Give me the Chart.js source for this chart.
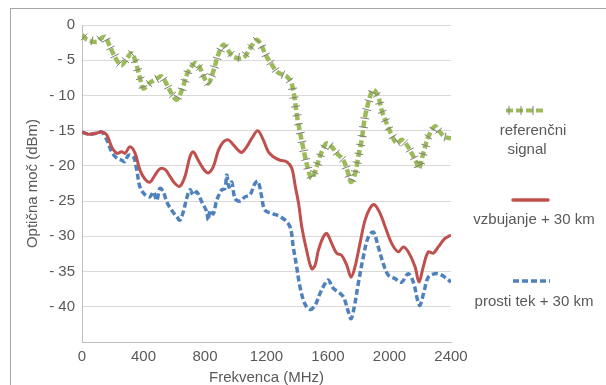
<!DOCTYPE html>
<html>
<head>
<meta charset="utf-8">
<script src="https://cdn.jsdelivr.net/npm/chart.js@4.4.1/dist/chart.umd.min.js"></script>
<style>
  html, body { margin: 0; padding: 0; background: #fff; }
  #graf { display: block; }
</style>
</head>
<body>
<canvas id="graf" width="606" height="385"></canvas>
<script>
// podatki odčitani s slike (MHz, dBm)
const refFrek = [0, 34, 96, 117, 150, 182, 226, 258, 293, 323, 351, 377, 399, 442, 481, 518, 553, 585, 616, 650,
  689, 735, 767, 793, 821, 852, 885, 919, 950, 984, 1047, 1093, 1136, 1164, 1201, 1234, 1266, 1300, 1331, 1364,
  1403, 1446, 1472, 1494, 1526, 1559, 1592, 1624, 1657, 1700, 1732, 1750, 1776, 1797, 1819, 1841, 1873, 1895,
  1927, 1949, 1982, 2014, 2047, 2079, 2112, 2144, 2177, 2192, 2220, 2252, 2296, 2328, 2361, 2400];
const refMoc = [-1.4, -2.1, -2.4, -2.0, -1.7, -3.1, -5.0, -5.7, -4.7, -4.0, -5.4, -7.5, -9.0, -8.2, -7.7, -7.3, -8.5, -9.8, -10.6, -9.2,
  -6.7, -5.4, -6.1, -7.4, -8.3, -6.7, -4.3, -2.8, -3.6, -4.5, -4.7, -3.3, -2.1, -2.8, -4.5, -5.6, -6.6, -7.0, -7.3, -8.3,
  -13.5, -18.2, -20.6, -21.8, -20.1, -18.0, -16.8, -17.3, -18.2, -19.2, -21.1, -22.3, -21.1, -18.7, -16.3, -13.0, -10.2, -9.2,
  -10.2, -12.1, -14.0, -15.6, -16.8, -16.3, -17.0, -18.2, -19.6, -20.4, -18.2, -15.9, -14.4, -15.2, -15.9, -16.1];

const vzbFrek = [0, 41, 85, 128, 161, 193, 226, 258, 280, 312, 345, 377, 410, 442, 475, 507, 540, 572, 605, 637,
  670, 702, 724, 756, 789, 821, 854, 887, 919, 952, 984, 1017, 1039, 1071, 1104, 1143, 1179, 1212, 1244, 1288,
  1331, 1364, 1388, 1410, 1429, 1461, 1494, 1516, 1537, 1569, 1592, 1624, 1657, 1689, 1722, 1750, 1776, 1808,
  1841, 1873, 1901, 1938, 1971, 2014, 2057, 2090, 2122, 2166, 2192, 2220, 2252, 2285, 2317, 2361, 2400];
const vzbMoc = [-15.2, -15.5, -15.4, -15.2, -15.6, -17.3, -18.2, -18.0, -18.2, -17.3, -18.2, -20.6, -21.9, -22.3, -21.3, -20.4, -20.5, -21.5, -22.5, -22.9,
  -21.5, -18.7, -18.0, -19.2, -20.4, -21.0, -20.1, -17.8, -16.6, -16.3, -17.0, -17.8, -18.1, -17.3, -16.1, -15.0, -16.3, -18.0, -18.7, -19.2,
  -19.4, -20.3, -23.0, -25.5, -28.6, -32.0, -34.6, -34.1, -32.0, -30.1, -29.6, -31.0, -32.4, -32.7, -34.1, -35.8, -34.3, -31.0,
  -27.7, -26.0, -25.5, -26.7, -28.6, -31.0, -32.2, -31.5, -32.2, -34.3, -36.5, -34.3, -32.2, -32.4, -31.5, -30.3, -29.8];

const ptFrek = [0, 41, 85, 128, 161, 193, 226, 258, 280, 301, 334, 356, 377, 410, 442, 464, 486, 507, 529, 551,
  583, 616, 637, 659, 681, 702, 724, 746, 779, 811, 821, 833, 854, 876, 909, 930, 941, 956, 974, 995,
  1028, 1060, 1093, 1125, 1145, 1169, 1190, 1244, 1288, 1331, 1357, 1374, 1396, 1418, 1450, 1483, 1516, 1548,
  1581, 1602, 1635, 1667, 1700, 1732, 1750, 1771, 1797, 1830, 1862, 1895, 1927, 1960, 1992, 2036, 2079, 2122,
  2155, 2183, 2198, 2226, 2252, 2296, 2339, 2372, 2400];
const ptMoc = [-15.2, -15.5, -15.4, -15.2, -16.3, -18.0, -18.9, -19.2, -19.4, -18.5, -18.7, -20.6, -23.0, -24.1, -24.4, -23.7, -24.9, -23.2, -23.7, -25.1,
  -26.3, -27.2, -27.7, -26.5, -24.6, -23.4, -24.1, -23.7, -25.1, -26.5, -27.7, -26.3, -26.8, -24.9, -23.4, -23.2, -21.3, -23.0, -22.3, -24.6,
  -25.0, -24.4, -24.1, -22.5, -22.2, -24.4, -26.3, -26.8, -27.2, -27.9, -28.9, -31.5, -34.3, -37.2, -39.6, -40.4, -39.8, -38.1,
  -36.7, -36.2, -37.4, -37.9, -38.6, -40.7, -41.7, -40.0, -36.7, -32.9, -30.1, -29.4, -31.5, -33.9, -35.5, -36.0, -36.5, -35.3,
  -36.5, -39.1, -39.8, -37.7, -35.8, -35.3, -35.5, -36.0, -36.5];

const oznake = ["referenčni signal", "vzbujanje + 30 km", "prosti tek + 30 km"];

const zelena = "#9BBB59", rdeca = "#C0504D", modra = "#4F81BD", siva = "#595959";
const pisava = "'Liberation Sans', Arial, sans-serif";

function tocke(frek, moc) {
  return frek.map((f, i) => ({ x: f, y: moc[i] }));
}

// okvir okrog grafa
const okvir = {
  id: "okvir",
  beforeDraw(chart) {
    const ctx = chart.ctx;
    ctx.save();
    ctx.fillStyle = "#fff";
    ctx.fillRect(0, 0, chart.width, chart.height);
    ctx.strokeStyle = "#A6A6A6";
    ctx.lineWidth = 1;
    ctx.strokeRect(10.5, 8.5, 700, 700);
    ctx.restore();
  }
};

// sive prečne črtice na referenčni krivulji
function precneCrtice(ctx, pts, korak, pol) {
  let ostanek = 3;
  for (let i = 1; i < pts.length; i++) {
    const x0 = pts[i - 1].x, y0 = pts[i - 1].y;
    const dx = pts[i].x - x0, dy = pts[i].y - y0;
    const dolz = Math.hypot(dx, dy);
    if (!dolz) continue;
    let d = ostanek;
    while (d < dolz) {
      const cx = x0 + dx * d / dolz, cy = y0 + dy * d / dolz;
      const nx = -dy / dolz * pol, ny = dx / dolz * pol;
      ctx.beginPath();
      ctx.moveTo(cx - nx, cy - ny);
      ctx.lineTo(cx + nx, cy + ny);
      ctx.stroke();
      d += korak;
    }
    ostanek = d - dolz;
  }
}

const crtice = {
  id: "crtice",
  afterDatasetsDraw(chart) {
    const pts = chart.getDatasetMeta(0).data;
    const ctx = chart.ctx;
    ctx.save();
    ctx.strokeStyle = "#7F7F7F";
    ctx.lineWidth = 1;
    precneCrtice(ctx, pts, 9, 4.5);
    ctx.restore();
  }
};

// legenda desno, besedilo pod oznako
const legenda = {
  id: "legenda",
  afterDraw(chart) {
    const ctx = chart.ctx;
    ctx.save();
    ctx.font = "15px " + pisava;
    ctx.fillStyle = siva;
    ctx.textAlign = "center";
    ctx.textBaseline = "middle";

    // referenčni signal
    ctx.strokeStyle = zelena;
    ctx.lineWidth = 4;
    ctx.setLineDash([7, 3]);
    ctx.beginPath(); ctx.moveTo(506, 110.5); ctx.lineTo(543, 110.5); ctx.stroke();
    ctx.setLineDash([]);
    ctx.strokeStyle = "#7F7F7F";
    ctx.lineWidth = 1;
    precneCrtice(ctx, [{ x: 506, y: 110.5 }, { x: 543, y: 110.5 }], 12, 4.5);
    ctx.fillText("referenčni", 533, 131);
    ctx.fillText("signal", 527, 150);

    // vzbujanje
    ctx.strokeStyle = rdeca;
    ctx.lineWidth = 3.5;
    ctx.lineCap = "round";
    ctx.beginPath(); ctx.moveTo(513, 200); ctx.lineTo(548, 200); ctx.stroke();
    ctx.lineCap = "butt";
    ctx.fillText(oznake[1], 534, 220);

    // prosti tek
    ctx.strokeStyle = modra;
    ctx.lineWidth = 3.5;
    ctx.setLineDash([6, 3]);
    ctx.beginPath(); ctx.moveTo(513, 281); ctx.lineTo(550, 281); ctx.stroke();
    ctx.setLineDash([]);
    ctx.fillText(oznake[2], 534, 302);
    ctx.restore();
  }
};

new Chart(document.getElementById("graf"), {
  type: "line",
  data: {
    datasets: [
      {
        label: oznake[0],
        data: tocke(refFrek, refMoc),
        borderColor: zelena,
        borderWidth: 4.5,
        borderDash: [7, 3],
        pointRadius: 0,
        tension: 0.35,
      },
      {
        label: oznake[1],
        data: tocke(vzbFrek, vzbMoc),
        borderColor: rdeca,
        borderWidth: 3,
        pointRadius: 0,
        tension: 0.35,
      },
      {
        label: oznake[2],
        data: tocke(ptFrek, ptMoc),
        borderColor: modra,
        borderWidth: 3.5,
        borderDash: [6, 3],
        pointRadius: 0,
        tension: 0.35,
      },
    ],
  },
  options: {
    responsive: false,
    animation: false,
    devicePixelRatio: 1,
    layout: { padding: { left: 10, top: 25, right: 155, bottom: -2 } },
    plugins: {
      legend: { display: false },
      tooltip: { enabled: false },
    },
    scales: {
      x: {
        type: "linear",
        min: 0,
        max: 2400,
        afterFit: (s) => { s.height = 45; },
        grid: { display: false, drawTicks: false },
        border: { color: "#BFBFBF" },
        ticks: {
          stepSize: 400,
          padding: 6,
          color: siva,
          font: { family: pisava, size: 15 },
          callback: (v) => String(v),
        },
        title: { display: true, text: "Frekvenca (MHz)", color: siva, padding: { top: 0, bottom: 0 }, font: { family: pisava, size: 15 } },
      },
      y: {
        min: -45,
        max: 0,
        afterFit: (s) => { s.width = 72; },
        grid: { color: "#D9D9D9", drawTicks: false },
        border: { color: "#BFBFBF" },
        ticks: {
          stepSize: 5,
          padding: 7,
          color: siva,
          font: { family: pisava, size: 15 },
          callback: (v) => (v === -45 ? "" : v === 0 ? "0" : "- " + Math.abs(v)),
        },
        title: { display: true, text: "Optična moč (dBm)", color: siva, padding: { top: 14, bottom: 0 }, font: { family: pisava, size: 15 } },
      },
    },
  },
  plugins: [okvir, crtice, legenda],
});
</script>
</body>
</html>
